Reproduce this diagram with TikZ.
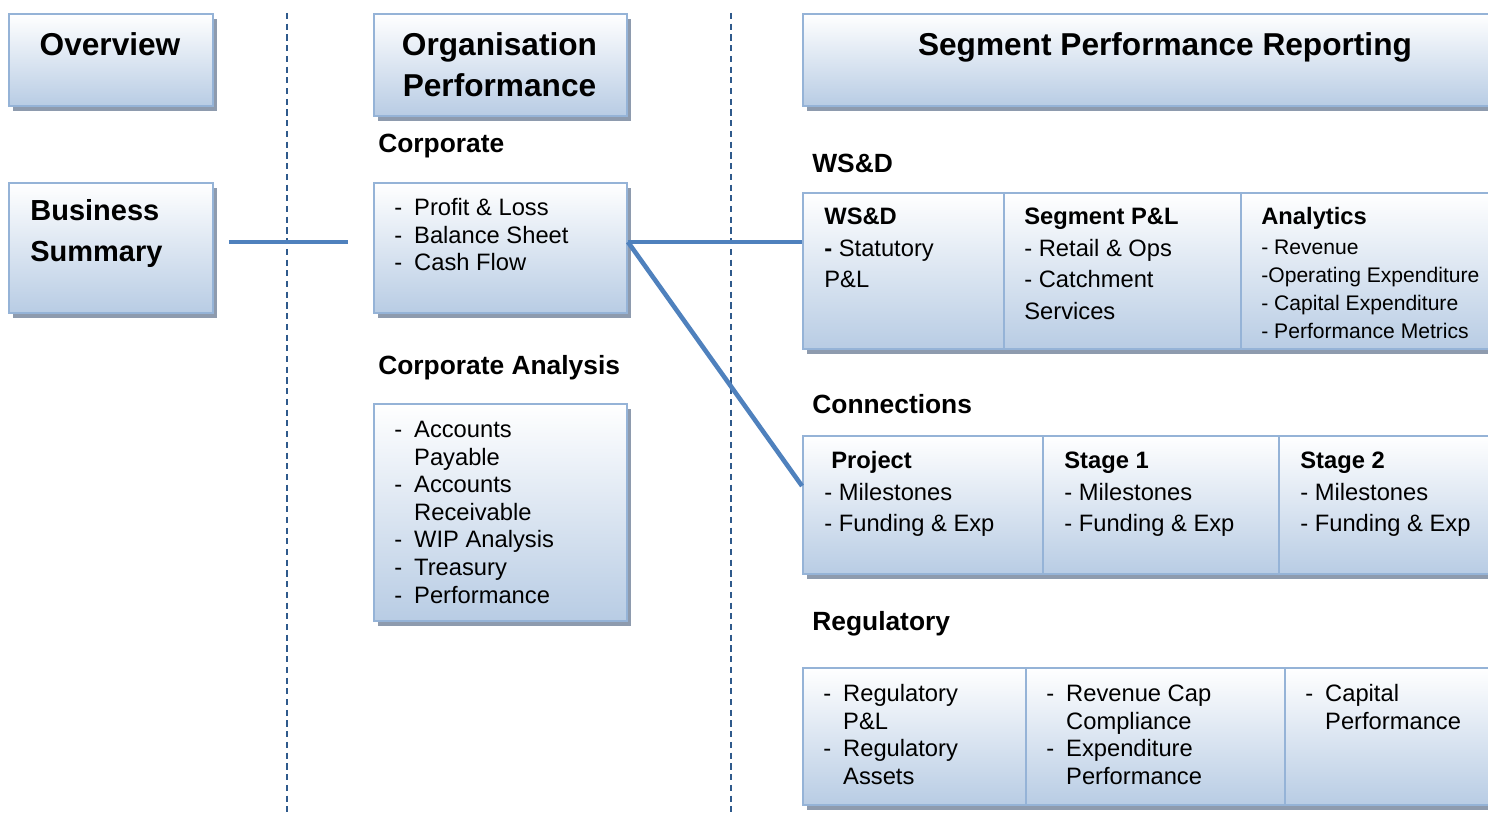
\documentclass[tikz,border=0pt]{standalone}
\usepackage{fontspec}
\setmainfont{Liberation Sans}
\usetikzlibrary{shadows}

\definecolor{boxbot}{RGB}{184,204,228}
\definecolor{boxline}{RGB}{149,179,215}
\definecolor{shadowgrey}{RGB}{142,155,174}
\definecolor{linkblue}{RGB}{79,129,189}
\definecolor{dashblue}{RGB}{47,90,140}

\tikzset{
  panel/.style={draw=boxline, line width=1.1pt, top color=white, bottom color=boxbot,
    drop shadow={shadow xshift=0.09cm, shadow yshift=-0.1cm, fill=shadowgrey, opacity=1},
    anchor=north west, inner sep=0pt},
  link/.style={draw=linkblue, line width=2.6pt},
  divider/.style={draw=dashblue, line width=1.1pt, dash pattern=on 3.5pt off 2.6pt},
  txt/.style={anchor=base west, inner sep=0pt},
  bigtitle/.style={inner sep=0pt, font=\bfseries\fontsize{18}{23.5}\selectfont},
  section/.style={txt, font=\bfseries\fontsize{15}{18}\selectfont},
  body/.style={txt, font=\fontsize{13.5}{15.7}\selectfont},
  roomy/.style={txt, font=\fontsize{13.5}{18}\selectfont},
  small/.style={txt, font=\fontsize{12}{16}\selectfont}
}

% "- item" lists with a hanging second line
\newcommand{\dashlist}[1]{\begin{tabular}[t]{@{}l@{\hspace{6.8pt}}l@{}}#1\end{tabular}}
\newcommand{\textrows}[1]{\begin{tabular}[t]{@{}l@{}}#1\end{tabular}}

\begin{document}
\begin{tikzpicture}
  \useasboundingbox (0,0) rectangle (29.76,-16.26);
  \clip (0,0) rectangle (29.76,-16.26);

  % column dividers
  \draw[divider] (5.74,-0.26) -- (5.74,-16.26);
  \draw[divider] (14.62,-0.26) -- (14.62,-16.26);

  % left column
  \node[panel, minimum width=4.08cm, minimum height=1.84cm] (overview) at (0.16,-0.26) {};
  \node[bigtitle, anchor=base] at (2.2,-1.11) {Overview};
  \node[panel, minimum width=4.08cm, minimum height=2.6cm] (bizsum) at (0.16,-3.64) {};
  \node[bigtitle, txt, font=\bfseries\fontsize{16.5}{23.2}\selectfont] at (0.6,-4.42)
    {\textrows{Business\\Summary}};

  % middle column
  \node[panel, minimum width=5.06cm, minimum height=2.04cm] (orgperf) at (7.46,-0.26) {};
  \node[bigtitle, anchor=base] at (9.99,-1.11)
    {\begin{tabular}[t]{@{}c@{}}Organisation\\Performance\end{tabular}};
  \node[section] at (7.56,-3.05) {Corporate};
  \node[panel, minimum width=5.06cm, minimum height=2.6cm] (corp) at (7.46,-3.64) {};
  \node[body] at (7.88,-4.31) {\dashlist{- & Profit \& Loss\\ - & Balance Sheet\\ - & Cash Flow}};
  \node[section] at (7.56,-7.49) {Corporate Analysis};
  \node[panel, minimum width=5.06cm, minimum height=4.34cm] (corpan) at (7.46,-8.06) {};
  \node[body] at (7.88,-8.75) {\dashlist{- & Accounts\\ & Payable\\ - & Accounts\\ & Receivable\\
    - & WIP Analysis\\ - & Treasury\\ - & Performance}};

  % right column
  \node[panel, minimum width=14.52cm, minimum height=1.84cm] (segrep) at (16.04,-0.26) {};
  \node[bigtitle, anchor=base] at (23.3,-1.11) {Segment Performance Reporting};

  % WS&D row
  \node[section] at (16.24,-3.45) {WS\&D};
  \node[panel, minimum width=4.02cm, minimum height=3.12cm] (wsd) at (16.04,-3.84) {};
  \node[panel, minimum width=4.74cm, minimum height=3.12cm] (segpl) at (20.06,-3.84) {};
  \node[panel, minimum width=5.76cm, minimum height=3.12cm] (analytics) at (24.8,-3.84) {};
  \node[roomy] at (16.48,-4.49) {\textrows{\textbf{WS\&D}\\\textbf{-} Statutory\\P\&L}};
  \node[roomy] at (20.48,-4.49) {\textrows{\textbf{Segment P\&L}\\- Retail \& Ops\\- Catchment\\Services}};
  \node[roomy] at (25.22,-4.49) {\textbf{Analytics}};
  \node[small] at (25.22,-5.09) {\textrows{- Revenue\\-Operating Expenditure\\
    - Capital Expenditure\\- Performance Metrics}};

  % Connections row
  \node[section] at (16.24,-8.27) {Connections};
  \node[panel, minimum width=4.8cm, minimum height=2.76cm] (project) at (16.04,-8.7) {};
  \node[panel, minimum width=4.72cm, minimum height=2.76cm] (stage1) at (20.84,-8.7) {};
  \node[panel, minimum width=5cm, minimum height=2.76cm] (stage2) at (25.56,-8.7) {};
  \node[roomy] at (16.48,-9.37) {\textrows{\hspace{4pt}\textbf{Project}\\- Milestones\\- Funding \& Exp}};
  \node[roomy] at (21.28,-9.37) {\textrows{\textbf{Stage 1}\\- Milestones\\- Funding \& Exp}};
  \node[roomy] at (26,-9.37) {\textrows{\textbf{Stage 2}\\- Milestones\\- Funding \& Exp}};

  % Regulatory row
  \node[section] at (16.24,-12.61) {Regulatory};
  \node[panel, minimum width=4.46cm, minimum height=2.74cm] (regpl) at (16.04,-13.34) {};
  \node[panel, minimum width=5.18cm, minimum height=2.74cm] (revcap) at (20.5,-13.34) {};
  \node[panel, minimum width=4.88cm, minimum height=2.74cm] (capperf) at (25.68,-13.34) {};
  \node[body] at (16.46,-14.03) {\dashlist{- & Regulatory\\ & P\&L\\ - & Regulatory\\ & Assets}};
  \node[body] at (20.92,-14.03) {\dashlist{- & Revenue Cap\\ & Compliance\\ - & Expenditure\\ & Performance}};
  \node[body] at (26.1,-14.03) {\dashlist{- & Capital\\ & Performance}};

  % connectors
  \coordinate (bizsum-out) at ([shift={(0.3,0.12)}]bizsum.east);
  \coordinate (corp-in) at ([shift={(-0.5,0.12)}]corp.west);
  \draw[link] (bizsum-out) -- (corp-in);
  \coordinate (hub) at ([yshift=0.12cm]corp.east);
  \draw[link] (hub) -- (hub -| wsd.west);
  \draw[link] (hub) -- ([yshift=0.38cm]project.west);
\end{tikzpicture}
\end{document}
